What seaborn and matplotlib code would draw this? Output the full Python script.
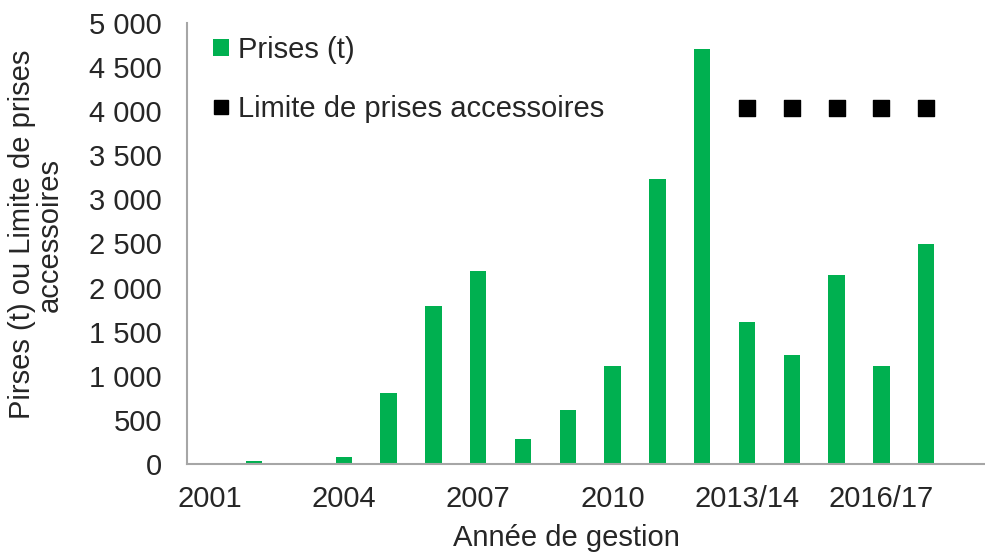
import numpy as np
import matplotlib
matplotlib.use("Agg")
import matplotlib.pyplot as plt
import seaborn as sns
from matplotlib.patches import Patch
from matplotlib.lines import Line2D

# Années de gestion (catégories de l'axe x)
years = ["2001", "2002", "2003", "2004", "2005", "2006", "2007", "2008", "2009",
         "2010", "2011", "2012", "2013/14", "2014/15", "2015/16", "2016/17", "2017/18"]
# Prises (t)
catch = [0, 30, 0, 75, 810, 1790, 2188, 283, 612, 1111, 3236, 4705,
         1608, 1237, 2145, 1112, 2489]
# Limite de prises accessoires
limit_years = ["2013/14", "2014/15", "2015/16", "2016/17", "2017/18"]
limit_values = [4035, 4035, 4035, 4035, 4035]

tick_labels = ["2001", "2004", "2007", "2010", "2013/14", "2016/17"]
y_ticks = [0, 500, 1000, 1500, 2000, 2500, 3000, 3500, 4000, 4500, 5000]

GREEN = "#00B050"
GREY = "#A6A6A6"

sns.set_style("white")
plt.rcParams["font.family"] = ["Liberation Sans", "DejaVu Sans"]
FS = 21

fig = plt.figure(figsize=(9.85, 5.59), dpi=100)
ax = fig.add_axes([187 / 985, 95 / 559, (985 - 187) / 985, 441 / 559])

sns.barplot(x=years, y=catch, color=GREEN, saturation=1, width=0.37,
            linewidth=0, ax=ax)

xpos = [years.index(y) for y in limit_years]
ax.scatter(xpos, limit_values, marker="s", s=120, color="black", zorder=3)

ax.set_ylim(0, 5000)
ax.set_xlim(-0.5, -0.5 + (985 - 187) / 44.8)
ax.set_yticks(y_ticks)
ax.set_yticklabels([f"{v:,}".replace(",", " ") for v in y_ticks], fontsize=FS)

# ticks aux limites des catégories, étiquettes toutes les 3 années
ax.set_xticks(np.arange(-0.5, len(years) + 0.5, 1))
ax.set_xticklabels([])
ax.set_xticks([years.index(t) for t in tick_labels], tick_labels, minor=True)
ax.tick_params(axis="x", which="major", length=6, color=GREY, direction="out")
ax.tick_params(axis="x", which="minor", length=0, labelsize=FS, pad=15)
ax.tick_params(axis="y", length=5, color=GREY, direction="out", pad=13)

for side in ["top", "right"]:
    ax.spines[side].set_visible(False)
for side in ["left", "bottom"]:
    ax.spines[side].set_color(GREY)
    ax.spines[side].set_linewidth(1.5)

ax.set_xlabel("Année de gestion", fontsize=FS)
ax.xaxis.set_label_coords(0.475, -0.135)
ax.set_ylabel("Pirses (t) ou Limite de prises\naccessoires", fontsize=FS,
              linespacing=0.95)
ax.yaxis.set_label_coords(-0.155, 0.52)

handles = [Patch(facecolor=GREEN, edgecolor="none"),
           Line2D([], [], marker="s", color="black", linestyle="none", markersize=10)]
ax.legend(handles, ["Prises (t)", "Limite de prises accessoires"], loc="upper left",
          bbox_to_anchor=(0.0, 1.03), frameon=False, fontsize=FS,
          handlelength=0.55, handleheight=0.55, handletextpad=0.3, labelspacing=1.05)

fig.savefig("out.png", dpi=100)
